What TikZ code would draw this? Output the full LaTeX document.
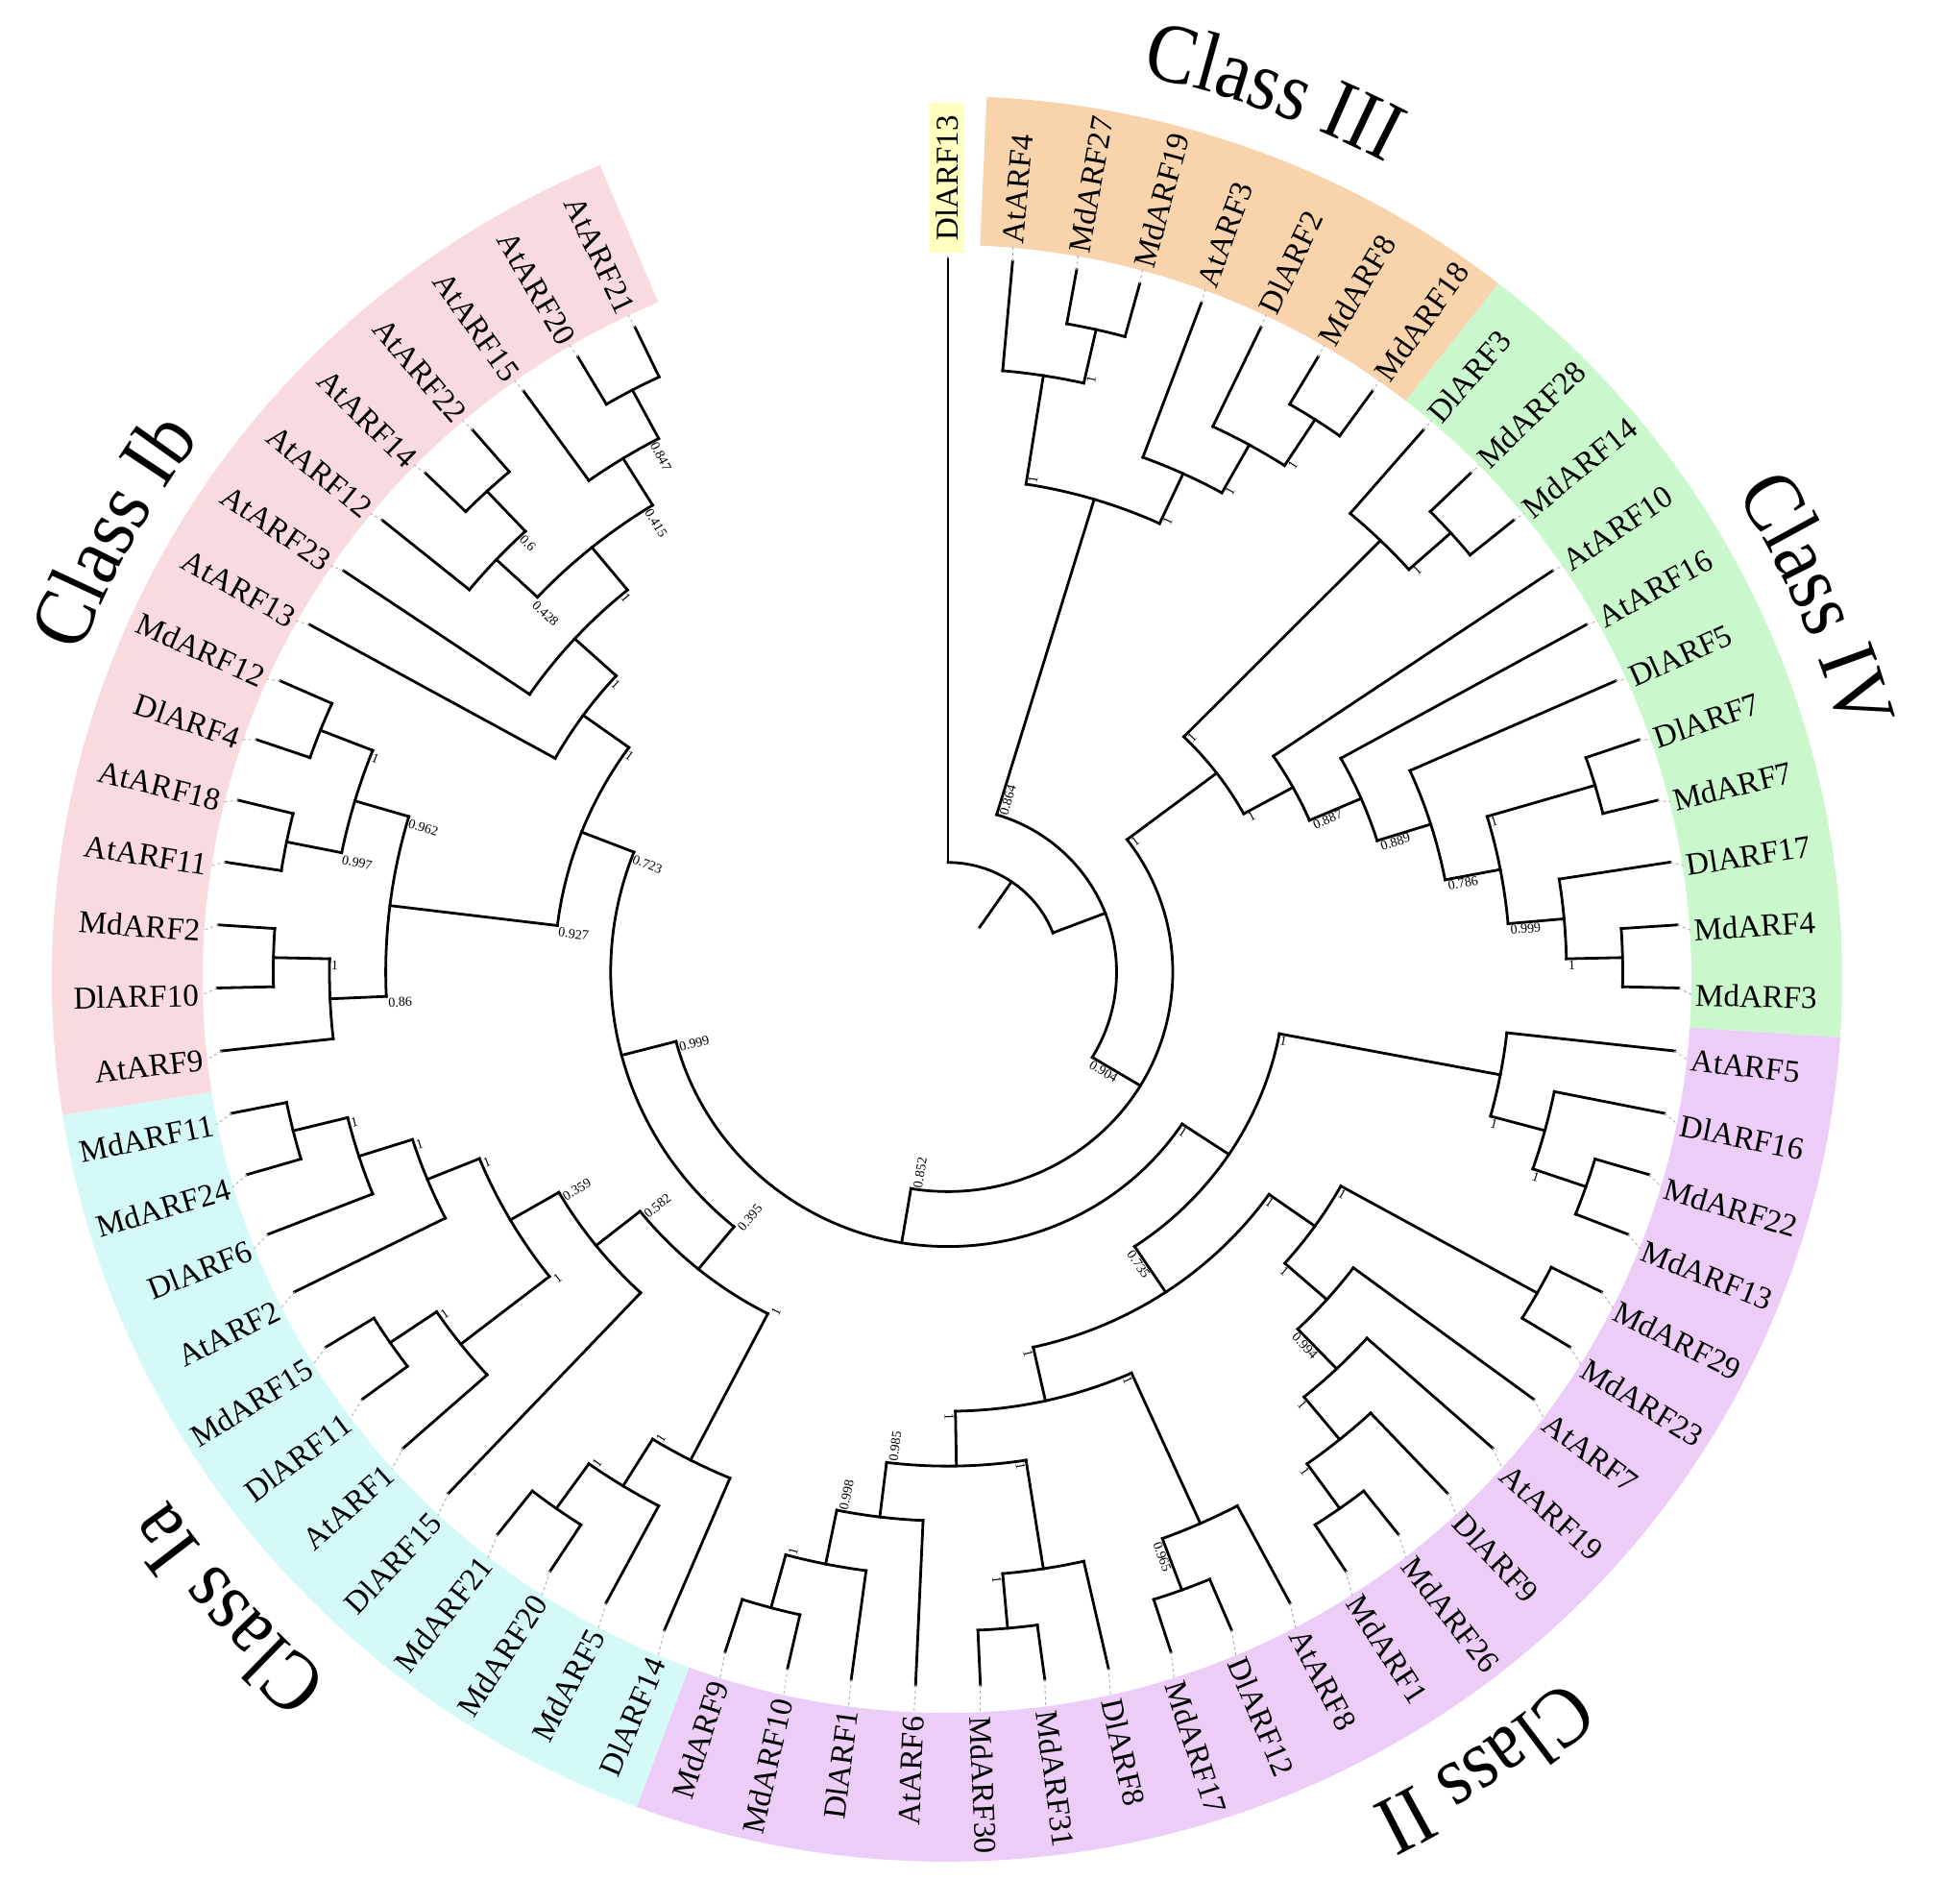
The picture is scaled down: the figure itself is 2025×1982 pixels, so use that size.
\documentclass[tikz,border=0pt]{standalone}
\usepackage{fontspec}
\setmainfont{Liberation Serif}
\newfontfamily\classfont[FakeStretch=0.9]{Liberation Serif}
\usetikzlibrary{decorations.text}
\definecolor{cIII}{RGB}{248,211,172}
\definecolor{cIV}{RGB}{202,248,204}
\definecolor{cII}{RGB}{235,205,248}
\definecolor{cIa}{RGB}{212,249,246}
\definecolor{cIb}{RGB}{248,218,223}
\definecolor{cYel}{RGB}{255,255,192}
\newcommand{\band}[3]{\fill[#3] (#1:775) arc[start angle=#1, end angle=#2, radius=775] -- (#2:932) arc[start angle=#2, end angle=#1, radius=932] -- cycle;}
\newcommand{\inode}[6]{\draw[br] (#2:#3) -- (#2:#4) coordinate (#1);\draw[br] (#5:#4) arc[start angle=#5, end angle=#6, radius=#4];}
\newcommand{\lf}[3]{\draw[br] (#2:#3) -- (#2:761) coordinate (t#1);}
\newcommand{\lbR}[3]{\coordinate (g#1) at (#2:776);\node[lab, anchor=west, rotate=#2] (l#1) at (#2:779) {#3};}
\newcommand{\lbL}[3]{\coordinate (g#1) at (#2:776);\node[lab, anchor=east, rotate=#2+180] (l#1) at (#2:779) {#3};}
\newcommand{\bsR}[3]{\node[bsl, anchor=north west, rotate=#1] at (#1:#2) {#3};}
\newcommand{\bsL}[3]{\node[bsl, anchor=north west, rotate=#1+180] at (#1:#2) {#3};}
\newcommand{\clab}[3]{\path[decorate, decoration={text along path, text align=center, text={|\classfont\fontsize{44}{44}\selectfont|#3}}] ({#1+25}:#2) arc[start angle={#1+25}, end angle={#1-25}, radius=#2];}
\begin{document}
\begin{tikzpicture}[x=0.5pt, y=0.5pt,
  br/.style={line width=1.4pt, line cap=rect},
  lead/.style={gray!60, line width=0.5pt, dash pattern=on 1.5pt off 1.5pt},
  lab/.style={font=\fontsize{16.5}{18}\selectfont, inner sep=0pt},
  bsl/.style={font=\fontsize{7}{8}\selectfont, inner sep=0.8pt}]
\useasboundingbox (-986,-963) rectangle (1039,1019);
%=============== bands, leaf labels, class labels ===============
\begin{scope}[y=0.493pt]
\band{87.46}{51.97}{cIII}
\band{51.97}{-3.80}{cIV}
\band{-3.80}{-110.28}{cII}
\band{-110.28}{-171.13}{cIa}
\band{-171.13}{-247.18}{cIb}
\clab{70}{975}{Class III}
\clab{23.7}{968}{Class IV}
\clab{-56}{980}{Class II}
\clab{-138.5}{980}{Class Ia}
\clab{151.5}{965}{Class Ib}
\coordinate (g0) at (90:766);
\node[lab, anchor=west, rotate=90, fill=cYel, inner xsep=6.5pt, inner ysep=3pt] (l0) at (90:766) {DlARF13};
\lbR{1}{84.93}{AtARF4}
\lbR{2}{79.86}{MdARF27}
\lbR{3}{74.79}{MdARF19}
\lbR{4}{69.72}{AtARF3}
\lbR{5}{64.65}{DlARF2}
\lbR{6}{59.58}{MdARF8}
\lbR{7}{54.51}{MdARF18}
\lbR{8}{49.44}{DlARF3}
\lbR{9}{44.37}{MdARF28}
\lbR{10}{39.30}{MdARF14}
\lbR{11}{34.23}{AtARF10}
\lbR{12}{29.15}{AtARF16}
\lbR{13}{24.08}{DlARF5}
\lbR{14}{19.01}{DlARF7}
\lbR{15}{13.94}{MdARF7}
\lbR{16}{8.87}{DlARF17}
\lbR{17}{3.80}{MdARF4}
\lbR{18}{-1.27}{MdARF3}
\lbR{19}{-6.34}{AtARF5}
\lbR{20}{-11.41}{DlARF16}
\lbR{21}{-16.48}{MdARF22}
\lbR{22}{-21.55}{MdARF13}
\lbR{23}{-26.62}{MdARF29}
\lbR{24}{-31.69}{MdARF23}
\lbR{25}{-36.76}{AtARF7}
\lbR{26}{-41.83}{AtARF19}
\lbR{27}{-46.90}{DlARF9}
\lbR{28}{-51.97}{MdARF26}
\lbR{29}{-57.04}{MdARF1}
\lbR{30}{-62.11}{AtARF8}
\lbR{31}{-67.18}{DlARF12}
\lbR{32}{-72.25}{MdARF17}
\lbR{33}{-77.32}{DlARF8}
\lbR{34}{-82.39}{MdARF31}
\lbR{35}{-87.46}{MdARF30}
\lbL{36}{-92.54}{AtARF6}
\lbL{37}{-97.61}{DlARF1}
\lbL{38}{-102.68}{MdARF10}
\lbL{39}{-107.75}{MdARF9}
\lbL{40}{-112.82}{DlARF14}
\lbL{41}{-117.89}{MdARF5}
\lbL{42}{-122.96}{MdARF20}
\lbL{43}{-128.03}{MdARF21}
\lbL{44}{-133.10}{DlARF15}
\lbL{45}{-138.17}{AtARF1}
\lbL{46}{-143.24}{DlARF11}
\lbL{47}{-148.31}{MdARF15}
\lbL{48}{-153.38}{AtARF2}
\lbL{49}{-158.45}{DlARF6}
\lbL{50}{-163.52}{MdARF24}
\lbL{51}{-168.59}{MdARF11}
\lbL{52}{-173.66}{AtARF9}
\lbL{53}{-178.73}{DlARF10}
\lbL{54}{-183.80}{MdARF2}
\lbL{55}{-188.87}{AtARF11}
\lbL{56}{-193.94}{AtARF18}
\lbL{57}{-199.01}{DlARF4}
\lbL{58}{-204.08}{MdARF12}
\lbL{59}{-209.15}{AtARF13}
\lbL{60}{-214.23}{AtARF23}
\lbL{61}{-219.30}{AtARF12}
\lbL{62}{-224.37}{AtARF14}
\lbL{63}{-229.44}{AtARF22}
\lbL{64}{-234.51}{AtARF15}
\lbL{65}{-239.58}{AtARF20}
\lbL{66}{-244.65}{AtARF21}
\end{scope}
%=============== tree ===============
\begin{scope}[shift={(0.5pt,3.5pt)}, y=0.488pt]
\draw[br] (55.52:58.4) -- (55.52:117) coordinate (root);
\draw[br] (90:117) arc[start angle=90, end angle=21.03, radius=117];
\lf{0}{90}{117}
\inode{A}{21.03}{117}{175.5}{73.21}{-31.15}
\inode{B}{-31.15}{175.5}{234}{37.20}{-99.49}
\inode{D}{-99.49}{234}{292.6}{-33.60}{-165.38}
% Class III
\inode{n6}{73.21}{175.5}{526.8}{81.13}{65.28}
\inode{n2}{81.13}{526.8}{644}{84.93}{77.32}
\inode{n1}{77.32}{644}{702.5}{79.86}{74.79}
\inode{n5}{65.28}{526.8}{585.4}{69.72}{60.85}
\inode{n4}{60.85}{585.4}{644}{64.65}{57.04}
\inode{n3}{57.04}{644}{702.5}{59.58}{54.51}
\lf{1}{84.93}{644}
\lf{2}{79.86}{702.5}
\lf{3}{74.79}{702.5}
\lf{4}{69.72}{585.4}
\lf{5}{64.65}{644}
\lf{6}{59.58}{702.5}
\lf{7}{54.51}{702.5}
% Class IV
\inode{m3}{37.20}{234}{351.2}{45.64}{28.76}
\inode{m2}{45.64}{351.2}{644}{49.44}{41.83}
\inode{m1}{41.83}{644}{702.5}{44.37}{39.30}
\inode{m4}{28.76}{351.2}{409.7}{34.23}{23.29}
\inode{m5}{23.29}{409.7}{468.3}{29.15}{17.43}
\inode{m6}{17.43}{468.3}{526.8}{24.08}{10.78}
\inode{m7}{10.78}{526.8}{585.4}{16.48}{5.07}
\inode{m8}{16.48}{585.4}{702.5}{19.01}{13.94}
\inode{m9}{5.07}{585.4}{644}{8.87}{1.27}
\inode{m10}{1.27}{644}{702.5}{3.80}{-1.27}
\lf{8}{49.44}{644}
\lf{9}{44.37}{702.5}
\lf{10}{39.30}{702.5}
\lf{11}{34.23}{409.7}
\lf{12}{29.15}{468.3}
\lf{13}{24.08}{526.8}
\lf{14}{19.01}{702.5}
\lf{15}{13.94}{702.5}
\lf{16}{8.87}{644}
\lf{17}{3.80}{702.5}
\lf{18}{-1.27}{702.5}
% Class II
\inode{E}{-33.60}{292.6}{351.2}{-10.78}{-56.41}
\inode{p1}{-10.78}{351.2}{585.4}{-6.34}{-15.21}
\inode{p2}{-15.21}{585.4}{644}{-11.41}{-19.01}
\inode{p3}{-19.01}{644}{702.5}{-16.48}{-21.55}
\inode{q1}{-56.41}{351.2}{409.7}{-35.34}{-77.49}
\inode{V}{-35.34}{409.7}{468.3}{-29.15}{-41.52}
\inode{v1}{-29.15}{468.3}{702.5}{-26.62}{-31.69}
\inode{v2}{-41.52}{468.3}{526.8}{-36.76}{-46.27}
\inode{v3}{-46.27}{526.8}{585.4}{-41.83}{-50.71}
\inode{v4}{-50.71}{585.4}{644}{-46.90}{-54.51}
\inode{v5}{-54.51}{644}{702.5}{-51.97}{-57.04}
\inode{s5}{-77.49}{409.7}{468.3}{-65.92}{-89.05}
\inode{Z}{-65.92}{468.3}{644}{-62.11}{-69.72}
\inode{W}{-69.72}{644}{702.5}{-67.18}{-72.25}
\inode{s4}{-89.05}{468.3}{526.8}{-81.13}{-96.97}
\inode{X}{-81.13}{526.8}{644}{-77.32}{-84.93}
\inode{Y}{-84.93}{644}{702.5}{-82.39}{-87.46}
\inode{s3}{-96.97}{526.8}{585.4}{-92.54}{-101.41}
\inode{s2}{-101.41}{585.4}{644}{-97.61}{-105.21}
\inode{s1}{-105.21}{644}{702.5}{-102.68}{-107.75}
\lf{19}{-6.34}{585.4}
\lf{20}{-11.41}{644}
\lf{21}{-16.48}{702.5}
\lf{22}{-21.55}{702.5}
\lf{23}{-26.62}{702.5}
\lf{24}{-31.69}{702.5}
\lf{25}{-36.76}{526.8}
\lf{26}{-41.83}{585.4}
\lf{27}{-46.90}{644}
\lf{28}{-51.97}{702.5}
\lf{29}{-57.04}{702.5}
\lf{30}{-62.11}{644}
\lf{31}{-67.18}{702.5}
\lf{32}{-72.25}{702.5}
\lf{33}{-77.32}{644}
\lf{34}{-82.39}{702.5}
\lf{35}{-87.46}{702.5}
\lf{36}{-92.54}{585.4}
\lf{37}{-97.61}{644}
\lf{38}{-102.68}{702.5}
\lf{39}{-107.75}{702.5}
% Class Ia
\inode{F}{-165.38}{292.6}{351.2}{-129.37}{-201.39}
\inode{I0}{-129.37}{351.2}{409.7}{-117.25}{-141.49}
\inode{T3}{-117.25}{409.7}{585.4}{-112.82}{-121.69}
\inode{T2}{-121.69}{585.4}{644}{-117.89}{-125.49}
\inode{T1}{-125.49}{644}{702.5}{-122.96}{-128.03}
\inode{U}{-141.49}{409.7}{468.3}{-133.10}{-149.89}
\inode{R4}{-149.89}{468.3}{526.8}{-141.97}{-157.82}
\inode{R5}{-141.97}{526.8}{644}{-138.17}{-145.77}
\inode{R6}{-145.77}{644}{702.5}{-143.24}{-148.31}
\inode{R3}{-157.82}{526.8}{585.4}{-153.38}{-162.25}
\inode{R2}{-162.25}{585.4}{644}{-158.45}{-166.06}
\inode{R1}{-166.06}{644}{702.5}{-163.52}{-168.59}
\lf{40}{-112.82}{585.4}
\lf{41}{-117.89}{644}
\lf{42}{-122.96}{702.5}
\lf{43}{-128.03}{702.5}
\lf{44}{-133.10}{468.3}
\lf{45}{-138.17}{644}
\lf{46}{-143.24}{702.5}
\lf{47}{-148.31}{702.5}
\lf{48}{-153.38}{585.4}
\lf{49}{-158.45}{644}
\lf{50}{-163.52}{702.5}
\lf{51}{-168.59}{702.5}
% Class Ib
\inode{G1}{-201.39}{351.2}{409.7}{-186.97}{-215.81}
\inode{H}{-186.97}{409.7}{585.4}{-177.47}{-196.48}
\inode{H1}{-177.47}{585.4}{644}{-173.66}{-181.27}
\inode{H2}{-181.27}{644}{702.5}{-178.73}{-183.80}
\inode{H3}{-196.48}{585.4}{644}{-191.41}{-201.55}
\inode{H5}{-191.41}{644}{702.5}{-188.87}{-193.94}
\inode{H4}{-201.55}{644}{702.5}{-199.01}{-204.08}
\inode{J}{-215.81}{409.7}{468.3}{-209.15}{-222.46}
\inode{K}{-222.46}{468.3}{526.8}{-214.23}{-230.70}
\inode{L}{-230.70}{526.8}{585.4}{-223.10}{-238.31}
\inode{M}{-223.10}{585.4}{644}{-219.30}{-226.90}
\inode{M2}{-226.90}{644}{702.5}{-224.37}{-229.44}
\inode{N}{-238.31}{585.4}{644}{-234.51}{-242.11}
\inode{N2}{-242.11}{644}{702.5}{-239.58}{-244.65}
\lf{52}{-173.66}{644}
\lf{53}{-178.73}{702.5}
\lf{54}{-183.80}{702.5}
\lf{55}{-188.87}{702.5}
\lf{56}{-193.94}{702.5}
\lf{57}{-199.01}{702.5}
\lf{58}{-204.08}{702.5}
\lf{59}{-209.15}{468.3}
\lf{60}{-214.23}{526.8}
\lf{61}{-219.30}{644}
\lf{62}{-224.37}{702.5}
\lf{63}{-229.44}{702.5}
\lf{64}{-234.51}{644}
\lf{65}{-239.58}{702.5}
\lf{66}{-244.65}{702.5}
% support values
\bsR{73.21}{175.5}{0.864}
\bsR{81.13}{526.8}{1}
\bsR{77.32}{644}{1}
\bsR{65.28}{526.8}{1}
\bsR{60.85}{585.4}{1}
\bsR{57.04}{644}{1}
\bsR{37.20}{234}{1}
\bsR{45.64}{351.2}{1}
\bsR{41.83}{644}{1}
\bsR{28.76}{351.2}{1}
\bsR{23.29}{409.7}{0.887}
\bsR{17.43}{468.3}{0.889}
\bsR{10.78}{526.8}{0.786}
\bsR{16.48}{585.4}{1}
\bsR{5.07}{585.4}{0.999}
\bsR{1.27}{644}{1}
\bsR{-31.15}{175.5}{0.904}
\bsR{-33.60}{292.6}{1}
\bsR{-10.78}{351.2}{1}
\bsR{-15.21}{585.4}{1}
\bsR{-19.01}{644}{1}
\bsR{-56.41}{351.2}{0.735}
\bsR{-35.34}{409.7}{1}
\bsR{-29.15}{468.3}{1}
\bsR{-41.52}{468.3}{1}
\bsR{-46.27}{526.8}{0.994}
\bsR{-50.71}{585.4}{1}
\bsR{-54.51}{644}{1}
\bsR{-77.49}{409.7}{1}
\bsR{-65.92}{468.3}{1}
\bsR{-69.72}{644}{0.965}
\bsR{-89.05}{468.3}{1}
\bsR{-81.13}{526.8}{1}
\bsR{-84.93}{644}{1}
\bsL{-96.97}{526.8}{0.985}
\bsL{-101.41}{585.4}{0.998}
\bsL{-105.21}{644}{1}
\bsL{-99.49}{234}{0.852}
\bsL{-165.38}{292.6}{0.999}
\bsL{-129.37}{351.2}{0.395}
\bsL{-117.25}{409.7}{1}
\bsL{-121.69}{585.4}{1}
\bsL{-125.49}{644}{1}
\bsL{-141.49}{409.7}{0.582}
\bsL{-149.89}{468.3}{0.359}
\bsL{-141.97}{526.8}{1}
\bsL{-145.77}{644}{1}
\bsL{-157.82}{526.8}{1}
\bsL{-162.25}{585.4}{1}
\bsL{-166.06}{644}{1}
\bsL{-201.39}{351.2}{0.723}
\bsL{-186.97}{409.7}{0.927}
\bsL{-196.48}{585.4}{0.962}
\bsL{-201.55}{644}{1}
\bsL{-191.41}{644}{0.997}
\bsL{-177.47}{585.4}{0.86}
\bsL{-181.27}{644}{1}
\bsL{-215.81}{409.7}{1}
\bsL{-222.46}{468.3}{1}
\bsL{-230.70}{526.8}{1}
\bsL{-223.10}{585.4}{0.428}
\bsL{-226.90}{644}{0.6}
\bsL{-238.31}{585.4}{0.415}
\bsL{-242.11}{644}{0.847}
\end{scope}
%=============== leaders from tips to labels ===============
\foreach \i in {0,...,66}{\draw[lead] (t\i) -- (g\i);}
\end{tikzpicture}
\end{document}
